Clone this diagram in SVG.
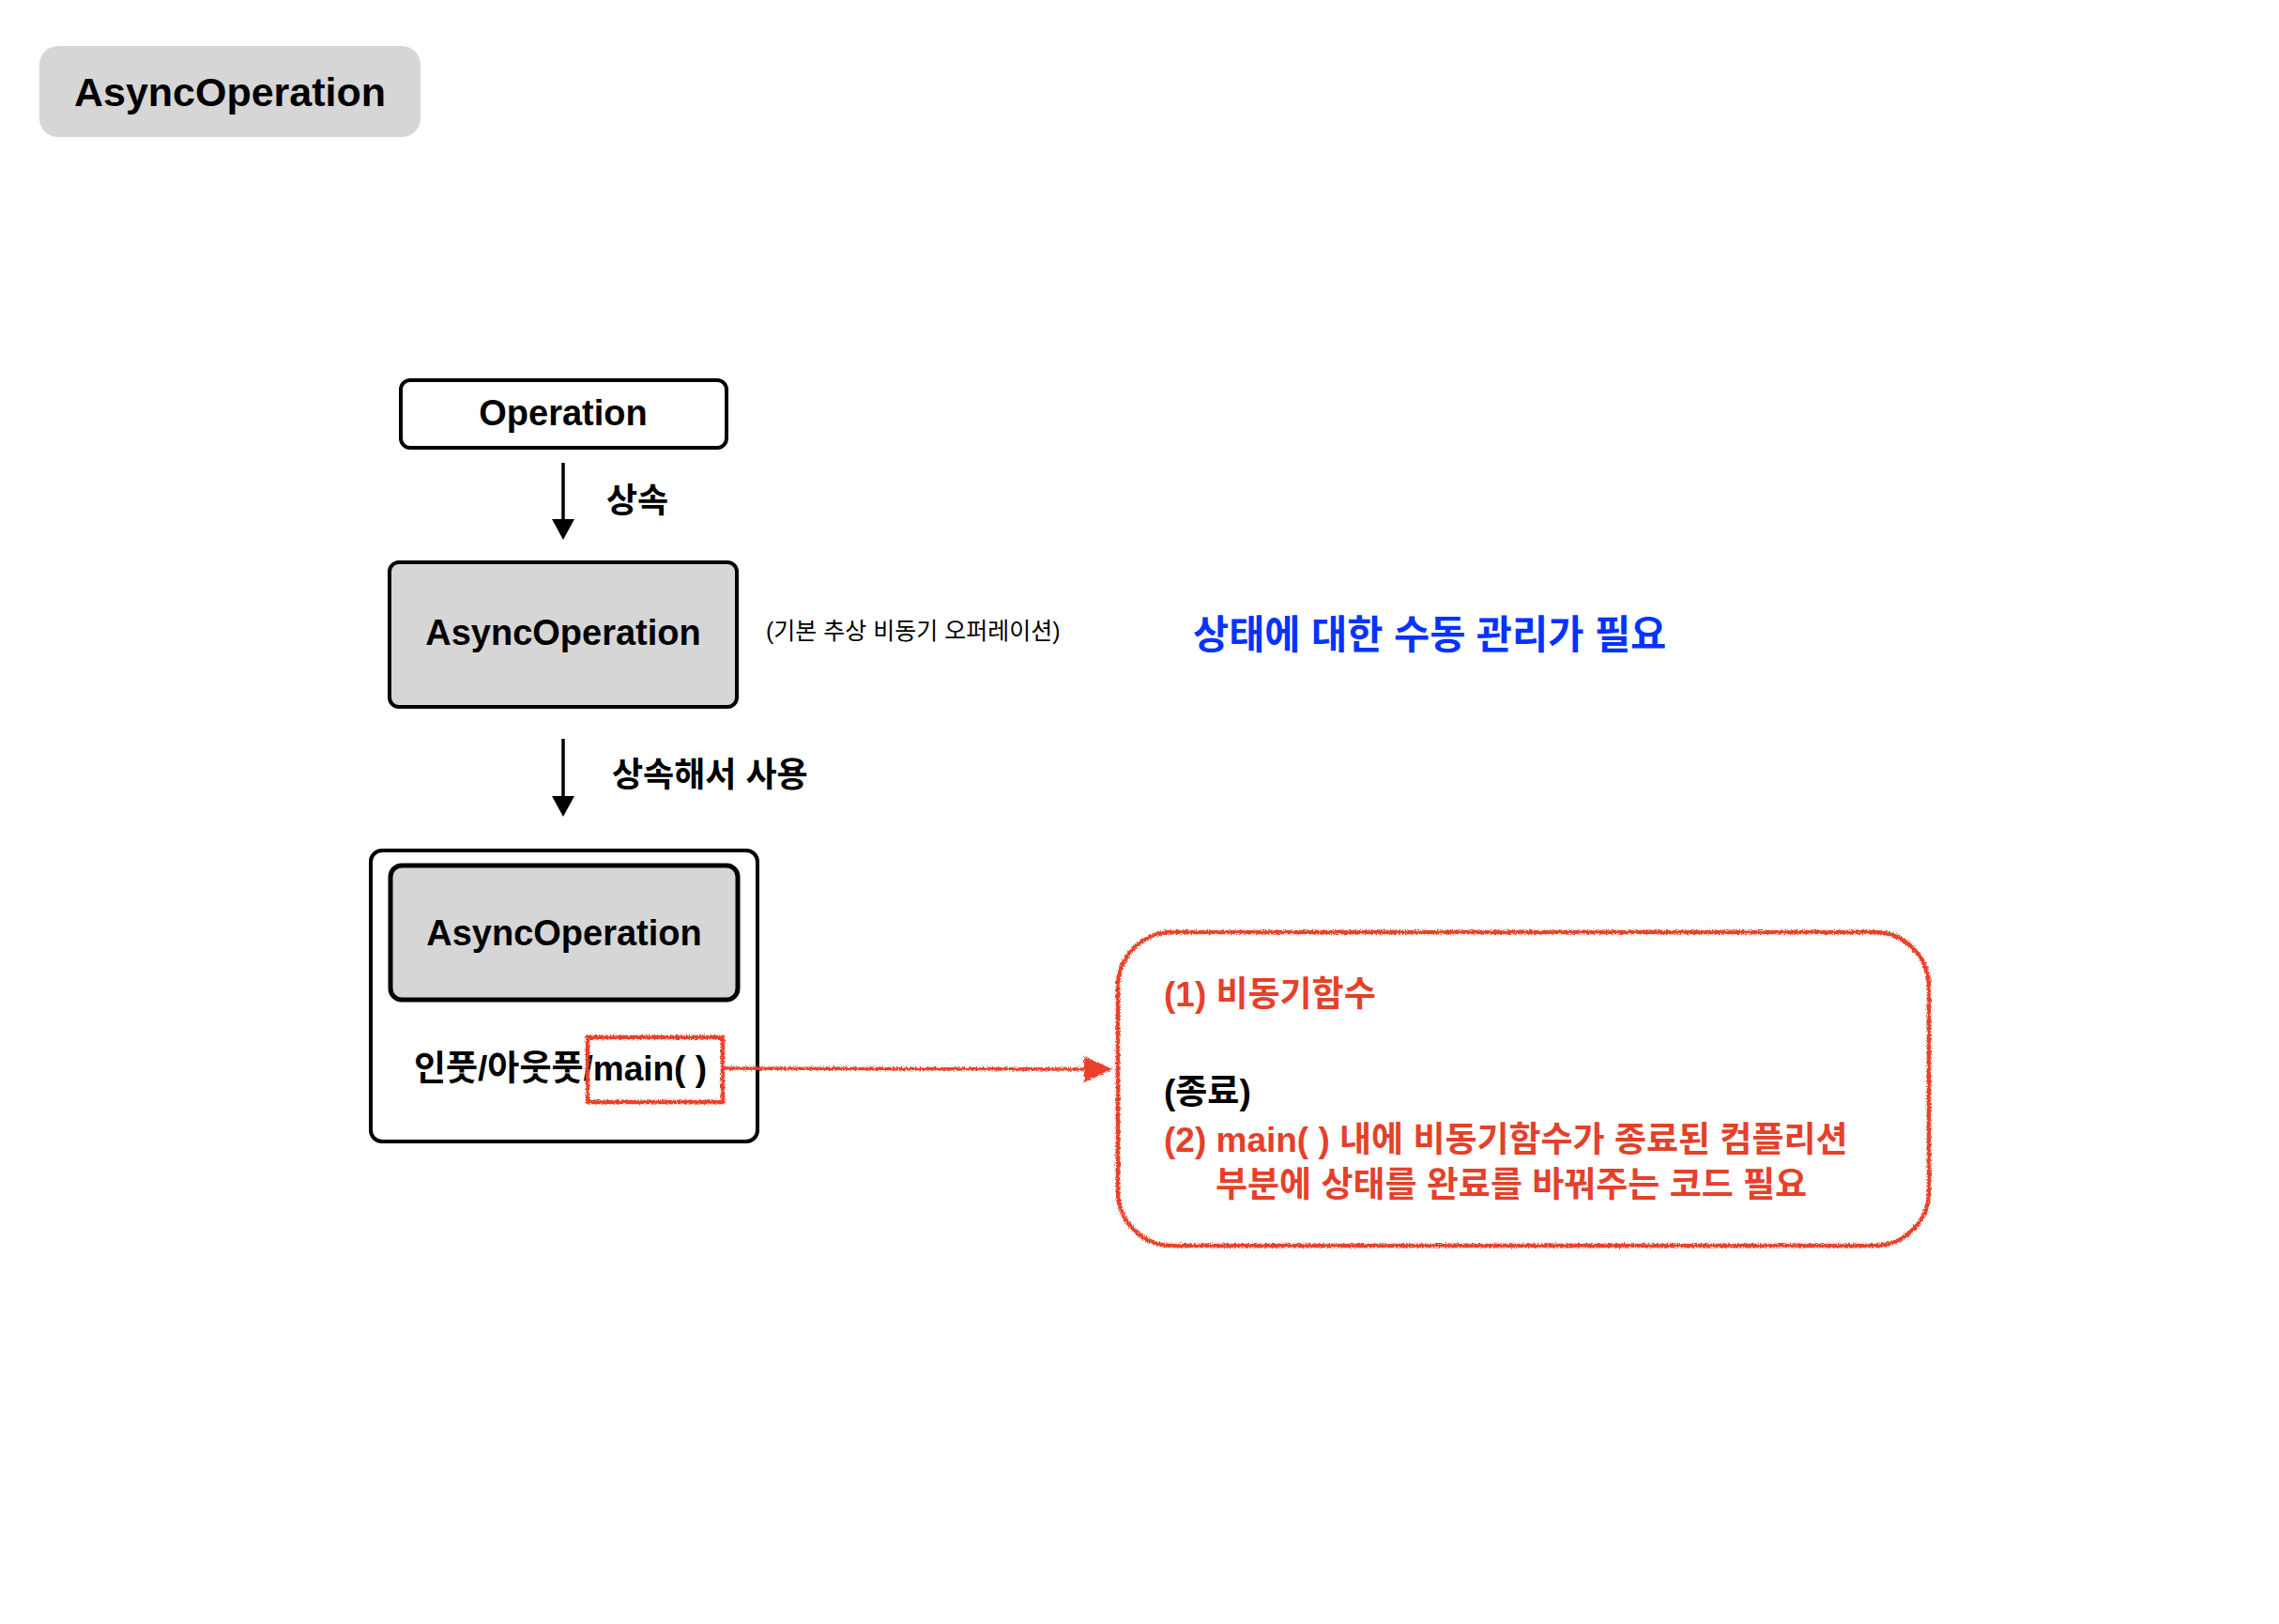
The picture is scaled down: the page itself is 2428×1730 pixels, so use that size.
<svg xmlns="http://www.w3.org/2000/svg" width="2428" height="1730" viewBox="0 0 2428 1730">
<style>
  text { font-family: 'Liberation Sans', 'Noto Sans CJK KR', sans-serif; font-weight: bold; fill: #000; }
  .node { font-size: 38px; text-anchor: middle; }
  .lbl { font-size: 36px; }
  .note { font-size: 25px; font-weight: normal; }
  .blue { font-size: 41.5px; fill: #0433FF; }
  .red { font-size: 37px; fill: #E5402A; }
  .blk { font-size: 37px; fill: #000; }
  .box { stroke: #000; stroke-width: 4; }
  .sketch { fill: none; stroke: #E8432B; stroke-width: 4.5; filter: url(#rough); }
</style>
<defs>
  <filter id="rough" x="-5%" y="-5%" width="110%" height="110%">
    <feTurbulence type="fractalNoise" baseFrequency="0.7" numOctaves="2" seed="3" result="n"/>
    <feDisplacementMap in="SourceGraphic" in2="n" scale="5" xChannelSelector="R" yChannelSelector="G"/>
  </filter>
</defs>
<rect width="2428" height="1730" fill="#fff"/>

<g id="title">
  <rect x="42" y="49" width="406" height="97" rx="20" fill="#d6d6d6"/>
  <text x="245" y="113" font-size="43" text-anchor="middle">AsyncOperation</text>
</g>

<g id="operation">
  <rect class="box" x="427" y="405" width="347" height="72" rx="10" fill="#fff"/>
  <text class="node" x="600" y="453">Operation</text>
</g>

<g id="async-base">
  <rect class="box" x="415" y="599" width="370" height="154" rx="10" fill="#d6d6d6"/>
  <text class="node" x="600" y="687">AsyncOperation</text>
</g>

<g id="async-base-note">
  <text class="note" x="816" y="681">(기본 추상 비동기 오퍼레이션)</text>
</g>

<g id="manual-state-note">
  <text class="blue" x="1271" y="691">상태에 대한 수동 관리가 필요</text>
</g>

<g id="subclass">
  <rect class="box" x="395" y="906" width="412" height="310" rx="12" fill="#fff"/>
  <rect x="416" y="922" width="370" height="143" rx="12" fill="#d6d6d6" stroke="#000" stroke-width="5"/>
  <text class="node" x="601" y="1007">AsyncOperation</text>
  <text class="blk" x="441" y="1151" font-size="38">인풋/아웃풋/main( )</text>
  <rect class="sketch" x="626" y="1105" width="144" height="69"/>
</g>

<g id="explanation">
  <rect class="sketch" x="1191" y="993" width="864" height="334" rx="58"/>
  <text class="red" x="1240" y="1072">(1) 비동기함수</text>
  <text class="blk" x="1240" y="1176">(종료)</text>
  <text class="red" x="1240" y="1227">(2) main( ) 내에 비동기함수가 종료된 컴플리션</text>
  <text class="red" x="1295" y="1275">부분에 상태를 완료를 바꿔주는 코드 필요</text>
</g>

<g id="connectors">
  <line x1="600" y1="493" x2="600" y2="555" stroke="#000" stroke-width="3.5"/>
  <path d="M588,553 L612,553 L600,575 Z" fill="#000"/>
  <text class="lbl" x="646" y="546">상속</text>

  <line x1="600" y1="787" x2="600" y2="850" stroke="#000" stroke-width="3.5"/>
  <path d="M588,848 L612,848 L600,870 Z" fill="#000"/>
  <text class="lbl" x="652" y="838">상속해서 사용</text>

  <g filter="url(#rough)">
    <line x1="770" y1="1138" x2="1160" y2="1139" stroke="#E8432B" stroke-width="3.5"/>
    <path d="M1155,1125 L1185,1139 L1155,1153 Z" fill="#E8432B"/>
  </g>
</g>
</svg>
